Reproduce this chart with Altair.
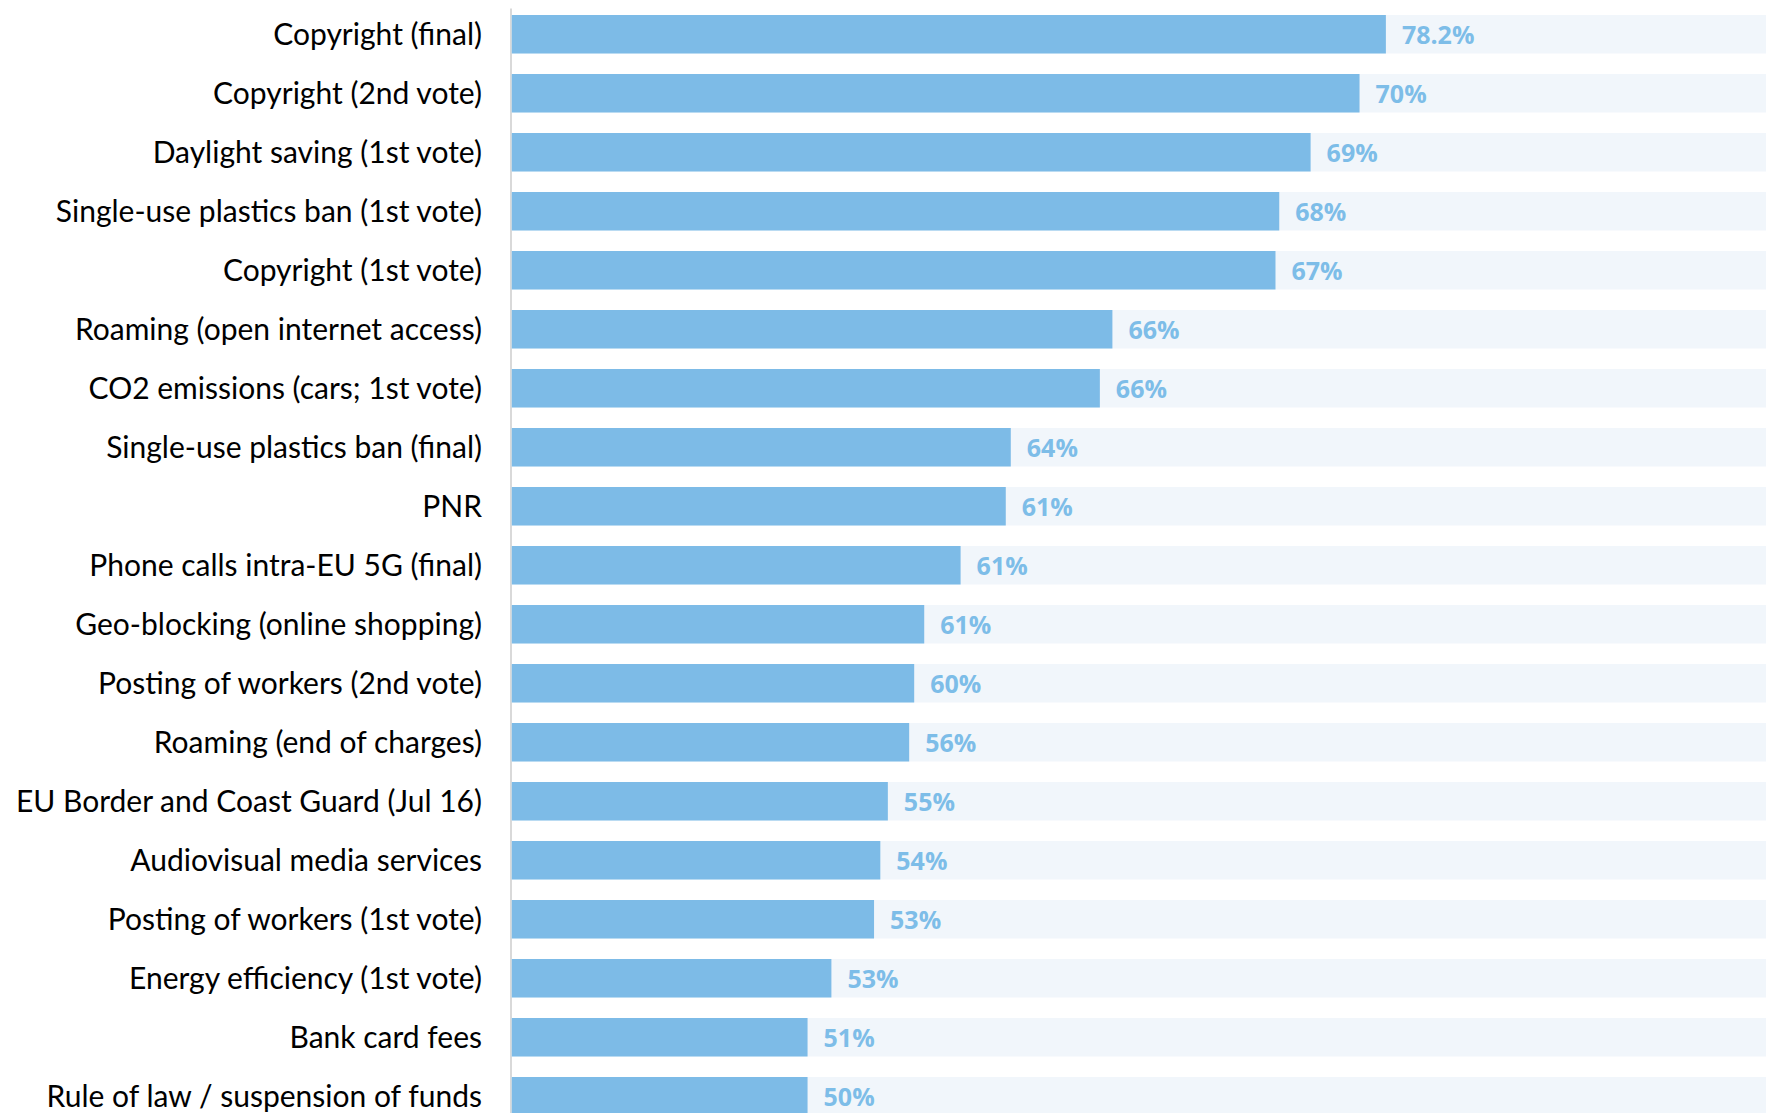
import altair as alt
import pandas as pd

categories = [
    "Copyright (final)",
    "Copyright (2nd vote)",
    "Daylight saving (1st vote)",
    "Single-use plastics ban (1st vote)",
    "Copyright (1st vote)",
    "Roaming (open internet access)",
    "CO2 emissions (cars; 1st vote)",
    "Single-use plastics ban (final)",
    "PNR",
    "Phone calls intra-EU 5G (final)",
    "Geo-blocking (online shopping)",
    "Posting of workers (2nd vote)",
    "Roaming (end of charges)",
    "EU Border and Coast Guard (Jul 16)",
    "Audiovisual media services",
    "Posting of workers (1st vote)",
    "Energy efficiency (1st vote)",
    "Bank card fees",
    "Rule of law / suspension of funds",
]

# bar lengths (share of the full track)
bar_values = [69.7, 67.6, 63.7, 61.2, 60.9, 47.9, 46.9, 39.8, 39.4, 35.8,
              32.9, 32.1, 31.7, 30.0, 29.4, 28.9, 25.5, 23.6, 23.6]

value_labels = ["78.2%", "70%", "69%", "68%", "67%", "66%", "66%", "64%", "61%", "61%",
                "61%", "60%", "56%", "55%", "54%", "53%", "53%", "51%", "50%"]

track_max = 100

df = pd.DataFrame({
    "category": categories,
    "value": bar_values,
    "label": value_labels,
    "full": [track_max] * len(categories),
})

BAR = "#7dbbe7"
TRACK = "#f1f6fb"
LABEL = "#7dbde8"

xscale = alt.Scale(domain=[0, track_max], nice=False, zero=True)

y = alt.Y(
    "category:N",
    sort=categories,
    scale=alt.Scale(range=[0, 1114.5], paddingInner=0.3475, paddingOuter=0.1186),
    axis=alt.Axis(
        title=None,
        ticks=False,
        tickSize=0,
        labelPadding=29,
        labelOffset=2,
        offset=1,
        labelFont="Lato",
        labelFontSize=30,
        labelColor="#000000",
        labelLimit=0,
        domainColor="#d9d9d9",
        domainWidth=2,
        grid=False,
    ),
)

bg = alt.Chart().mark_bar(color=TRACK, clip=True).encode(
    x=alt.X("full:Q", scale=xscale, axis=None),
    y=y,
)

fg = alt.Chart().mark_bar(color=BAR, clip=True).encode(
    x=alt.X("value:Q", scale=xscale, axis=None),
    y=y,
)

txt = alt.Chart().mark_text(
    align="left", baseline="middle", dx=16, dy=2,
    font="Open Sans", fontSize=25, fontWeight="bold", color=LABEL,
).encode(
    x=alt.X("value:Q", scale=xscale, axis=None),
    y=y,
    text="label:N",
)

chart = alt.layer(bg, fg, txt, data=df).properties(
    width=1254.5,
    height=1105,
    autosize=alt.AutoSizeParams(type="none"),
    padding={"left": 503.5, "top": 0, "right": 0, "bottom": 0},
).configure_view(stroke=None)

chart.save("out.html", embed_options={"renderer": "svg", "actions": False})
